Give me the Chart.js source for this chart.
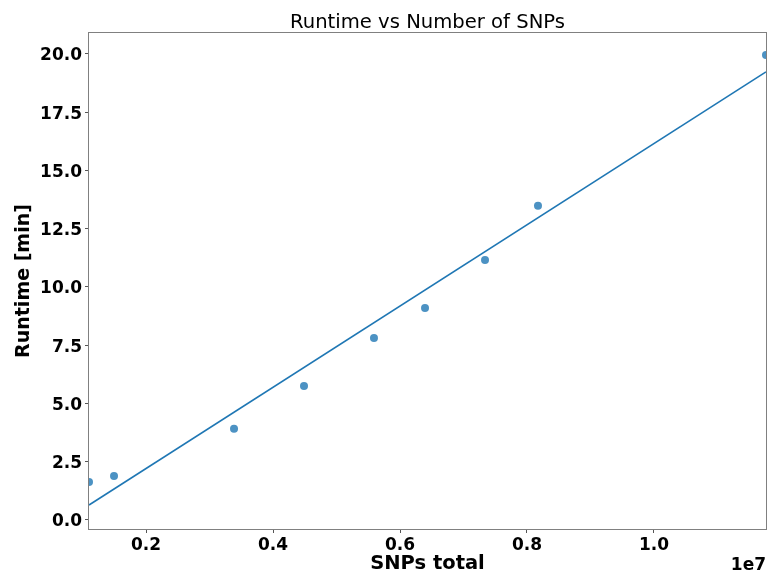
<!DOCTYPE html>
<html>
<head>
<meta charset="utf-8">
<script src="https://cdn.jsdelivr.net/npm/chart.js@4.4.1/dist/chart.umd.min.js"></script>
<style>
  html, body { margin: 0; padding: 0; background: #fff; }
  #wrap { width: 767px; height: 576px; position: relative; }
</style>
</head>
<body>
<div id="wrap"><canvas id="chart"></canvas></div>
<script>
// measured points
const snpsTotal = [1102000, 1496000, 3386000, 4488000, 5590000, 6394000, 7339000, 8173000, 11764000];
const runtimeMin = [1.63, 1.89, 3.91, 5.75, 7.81, 9.10, 11.16, 13.48, 19.96];

// fitted line, read at both plot edges
const fitX = [1102000, 11764000];
const fitY = [0.64, 19.23];

const xTicks = [2000000, 4000000, 6000000, 8000000, 10000000];
const yTicks = [0, 2.5, 5, 7.5, 10, 12.5, 15, 17.5, 20];

const FONT = "'DejaVu Sans', sans-serif";

// frame + title + offset text, placed like matplotlib does
const framePlugin = {
  id: 'frame',
  afterDraw(chart) {
    const { ctx, chartArea: a } = chart;
    ctx.save();
    ctx.strokeStyle = '#808080';
    ctx.lineWidth = 1;
    ctx.strokeRect(a.left - 0.5, a.top - 0.5, a.right - a.left + 1, a.bottom - a.top + 1);

    ctx.fillStyle = '#000';
    ctx.textAlign = 'center';
    ctx.textBaseline = 'alphabetic';
    ctx.font = '19.6px ' + FONT;
    ctx.fillText('Runtime vs Number of SNPs', (a.left + a.right) / 2, a.top - 5);

    ctx.font = 'bold 17px ' + FONT;
    ctx.textAlign = 'right';
    ctx.fillText('1e7', a.right, 570);
    ctx.restore();
  }
};

const ctx = document.getElementById('chart').getContext('2d');
new Chart(ctx, {
  type: 'scatter',
  data: {
    datasets: [
      {
        label: 'fit',
        type: 'line',
        data: fitX.map((x, i) => ({ x: x, y: fitY[i] })),
        borderColor: '#1f77b4',
        borderWidth: 1.6,
        pointRadius: 0,
        fill: false,
        clip: 0,
        order: 2
      },
      {
        label: 'runs',
        data: snpsTotal.map((x, i) => ({ x: x, y: runtimeMin[i] })),
        backgroundColor: 'rgba(31,119,180,0.8)',
        borderWidth: 0,
        pointRadius: 4,
        clip: 0,
        order: 1
      }
    ]
  },
  options: {
    responsive: true,
    maintainAspectRatio: false,
    animation: false,
    layout: { autoPadding: false, padding: { top: 33, right: 1, left: 0, bottom: 0 } },
    plugins: {
      legend: { display: false },
      tooltip: { enabled: false }
    },
    scales: {
      x: {
        type: 'linear',
        min: 1102000,
        max: 11764000,
        afterFit(scale) {
          scale.height = 47;
          scale.paddingLeft = 0;
          scale.paddingRight = 0;
        },
        afterBuildTicks(scale) { scale.ticks = xTicks.map(v => ({ value: v })); },
        ticks: {
          color: '#000',
          font: { family: FONT, size: 17, weight: 'bold' },
          padding: 2,
          maxRotation: 0,
          callback: v => (v / 1e7).toFixed(1)
        },
        grid: { drawOnChartArea: false, tickLength: 4, color: '#555' },
        border: { display: false },
        title: {
          display: true,
          text: 'SNPs total',
          color: '#000',
          font: { family: FONT, size: 19.5, weight: 'bold' },
          padding: { top: 0, bottom: 0 }
        }
      },
      y: {
        min: -0.39,
        max: 20.9,
        afterFit(scale) {
          scale.width = 89;
          scale.paddingTop = 0;
          scale.paddingBottom = 0;
        },
        afterBuildTicks(scale) { scale.ticks = yTicks.map(v => ({ value: v })); },
        ticks: {
          color: '#000',
          font: { family: FONT, size: 17, weight: 'bold' },
          padding: 3,
          labelOffset: 2,
          callback: v => v.toFixed(1)
        },
        grid: { drawOnChartArea: false, tickLength: 4, color: '#555' },
        border: { display: false },
        title: {
          display: true,
          text: 'Runtime [min]',
          color: '#000',
          font: { family: FONT, size: 19, weight: 'bold' },
          padding: { top: 13, bottom: 0 }
        }
      }
    }
  },
  plugins: [framePlugin]
});
</script>
</body>
</html>
